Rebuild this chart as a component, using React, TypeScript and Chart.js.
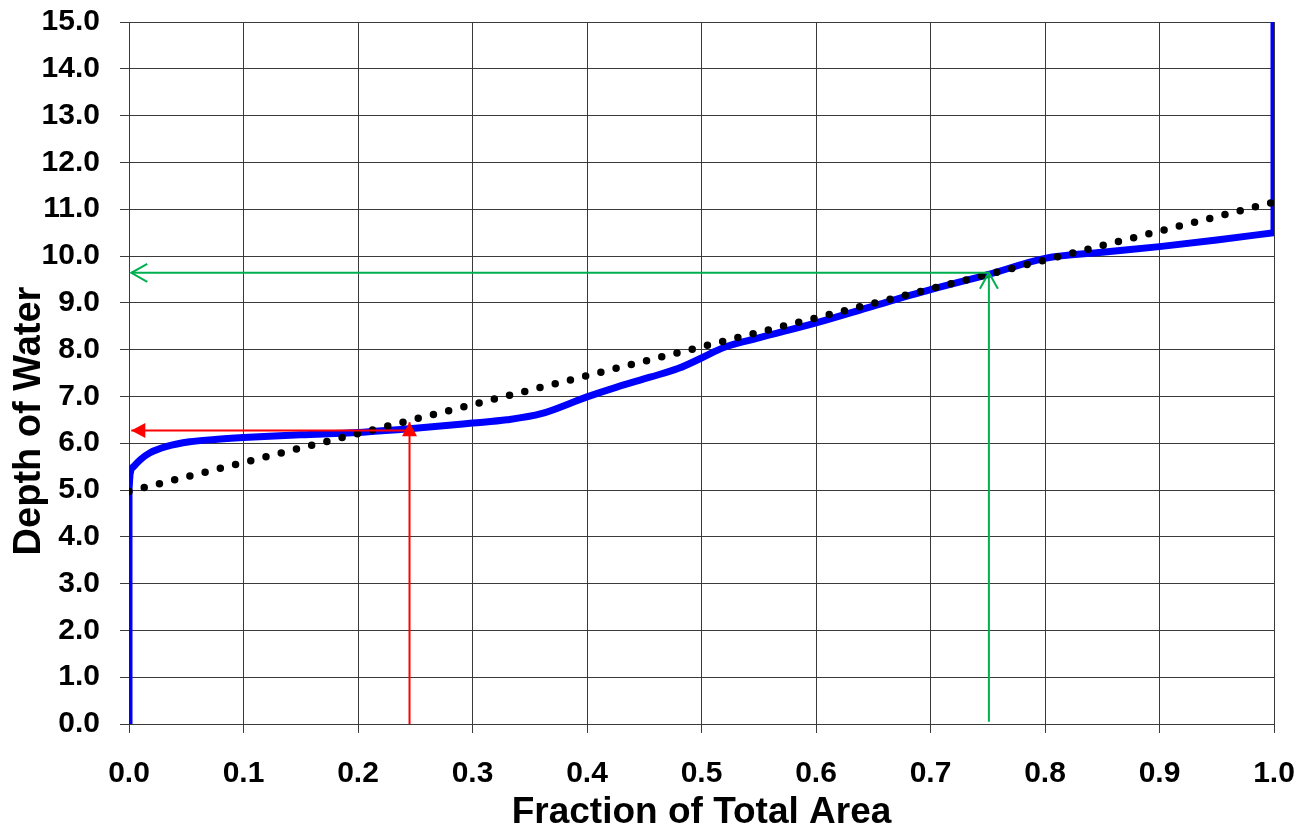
import React, { useEffect, useRef } from "react";
import { Chart, registerables } from "chart.js";

Chart.register(...registerables);

// Blue curve: depth of water vs fraction of total area
const leftEdgeFraction = [0, 0];
const leftEdgeDepth = [0, 5.0];
const curveFraction = [0, 0.001, 0.004, 0.01, 0.018, 0.033, 0.053, 0.075, 0.1, 0.15, 0.2, 0.25, 0.3, 0.33, 0.36, 0.4, 0.426, 0.455, 0.48, 0.5, 0.52, 0.55, 0.6, 0.65, 0.7, 0.75, 0.8, 0.85, 0.9, 0.95, 1.0];
const curveDepth = [5.0, 5.35, 5.5, 5.65, 5.79, 5.93, 6.03, 6.08, 6.12, 6.18, 6.23, 6.32, 6.43, 6.5, 6.63, 6.99, 7.2, 7.41, 7.6, 7.82, 8.05, 8.25, 8.57, 8.93, 9.28, 9.6, 9.95, 10.08, 10.2, 10.34, 10.5];
const rightEdgeFraction = [1.0, 1.0];
const rightEdgeDepth = [10.5, 15.0];

// Dotted straight-line reference
const linearFraction = [0, 1.0];
const linearDepth = [4.97, 11.15];

// Red arrows (fraction 0.245)
const redUpX = [0.245, 0.245];
const redUpY = [0, 6.45];
const redLeftX = [0.245, 0.002];
const redLeftY = [6.27, 6.27];

// Green arrows (fraction 0.75)
const greenUpX = [0.751, 0.751];
const greenUpY = [0.05, 9.64];
const greenLeftX = [0.751, 0.002];
const greenLeftY = [9.64, 9.64];

const xTicks = [0, 0.1, 0.2, 0.3, 0.4, 0.5, 0.6, 0.7, 0.8, 0.9, 1.0];
const yTicks = [0, 1, 2, 3, 4, 5, 6, 7, 8, 9, 10, 11, 12, 13, 14, 15];

const xTitle = "Fraction of Total Area";
const yTitle = "Depth of Water";

const zip = (xs: number[], ys: number[]) => xs.map((x, i) => ({ x, y: ys[i] }));

const FONT = "'Liberation Sans', Arial, sans-serif";

const arrowPlugin = {
  id: "arrowHeads",
  afterDatasetsDraw(chart: any) {
    const ctx = chart.ctx;
    chart.data.datasets.forEach((ds: any, i: number) => {
      if (!ds.arrowHead) return;
      const meta = chart.getDatasetMeta(i);
      const pts = meta.data;
      if (pts.length < 2) return;
      const tip = pts[pts.length - 1];
      const prev = pts[pts.length - 2];
      const ang = Math.atan2(tip.y - prev.y, tip.x - prev.x);
      const len = ds.arrowHead === "filled" ? 14 : 16;
      const half = ds.arrowHead === "filled" ? 7.5 : 9;
      const bx = tip.x - len * Math.cos(ang);
      const by = tip.y - len * Math.sin(ang);
      const px = -Math.sin(ang) * half;
      const py = Math.cos(ang) * half;
      ctx.save();
      ctx.strokeStyle = ds.borderColor;
      ctx.fillStyle = ds.borderColor;
      ctx.lineWidth = 2;
      ctx.beginPath();
      if (ds.arrowHead === "filled") {
        ctx.moveTo(tip.x, tip.y);
        ctx.lineTo(bx + px, by + py);
        ctx.lineTo(bx - px, by - py);
        ctx.closePath();
        ctx.fill();
      } else {
        ctx.moveTo(bx + px, by + py);
        ctx.lineTo(tip.x, tip.y);
        ctx.lineTo(bx - px, by - py);
        ctx.stroke();
      }
      ctx.restore();
    });
  },
};

const yTitlePlugin = {
  id: "yTitle",
  afterDraw(chart: any) {
    const ctx = chart.ctx;
    ctx.save();
    ctx.translate(30, 421);
    ctx.rotate(-Math.PI / 2);
    ctx.font = `bold 38px ${FONT}`;
    ctx.fillStyle = "#000";
    ctx.textAlign = "center";
    ctx.textBaseline = "middle";
    ctx.fillText(yTitle, 0, 0);
    ctx.restore();
  },
};

export default function App() {
  const ref = useRef<HTMLCanvasElement | null>(null);
  useEffect(() => {
    if (!ref.current) return;
    const lineDs = (data: any[], color: string, width: number, extra: any = {}) => ({
      data,
      borderColor: color,
      backgroundColor: color,
      borderWidth: width,
      showLine: true,
      pointRadius: 0,
      pointHoverRadius: 0,
      tension: 0,
      fill: false,
      ...extra,
    });
    const blue = { borderJoinStyle: "round", borderCapStyle: "round", order: 2 };
    const chart = new Chart(ref.current, {
      type: "scatter",
      data: {
        datasets: [
          lineDs(zip(redUpX, redUpY), "#ff0000", 2, { arrowHead: "filled", order: 0 }),
          lineDs(zip(redLeftX, redLeftY), "#ff0000", 2, { arrowHead: "filled", order: 0 }),
          lineDs(zip(greenUpX, greenUpY), "#00b050", 2, { arrowHead: "open", order: 0 }),
          lineDs(zip(greenLeftX, greenLeftY), "#00b050", 2, { arrowHead: "open", order: 0 }),
          lineDs(zip(linearFraction, linearDepth), "#000000", 7.5, {
            borderDash: [0, 15.7],
            borderCapStyle: "round",
            order: 1,
          }),
          lineDs(zip(leftEdgeFraction, leftEdgeDepth), "#0000ff", 7, { ...blue, borderCapStyle: "butt" }),
          lineDs(zip(curveFraction, curveDepth), "#0000ff", 7, {
            ...blue,
            cubicInterpolationMode: "monotone",
          }),
          lineDs(zip(rightEdgeFraction, rightEdgeDepth), "#0000ff", 7, blue),
        ] as any,
      },
      options: {
        responsive: false,
        devicePixelRatio: 1,
        animation: false,
        events: [],
        layout: { padding: { top: 22, right: 38, left: 0, bottom: 0 } },
        plugins: {
          legend: { display: false },
          tooltip: { enabled: false },
          title: { display: false },
        },
        scales: {
          x: {
            type: "linear",
            min: 0,
            max: 1,
            afterBuildTicks: (s: any) => {
              s.ticks = xTicks.map((v) => ({ value: v }));
            },
            afterFit: (s: any) => {
              s.height = 107;
              s.paddingLeft = 0;
              s.paddingRight = 0;
            },
            ticks: {
              color: "#000",
              font: { family: FONT, size: 30, weight: "bold" },
              padding: 23,
              maxRotation: 0,
              callback: (v: any) => Number(v).toFixed(1),
            },
            grid: { color: "#3a3a3a", lineWidth: 1, tickLength: 9, drawTicks: true },
            border: { color: "#3a3a3a", width: 1 },
            title: {
              display: true,
              text: xTitle,
              color: "#000",
              font: { family: FONT, size: 37, weight: "bold" },
              padding: { top: 0, bottom: -4 },
            },
          },
          y: {
            type: "linear",
            min: 0,
            max: 15,
            afterBuildTicks: (s: any) => {
              s.ticks = yTicks.map((v) => ({ value: v }));
            },
            afterFit: (s: any) => {
              s.width = 129;
              s.paddingTop = 0;
              s.paddingBottom = 0;
            },
            ticks: {
              color: "#000",
              font: { family: FONT, size: 30, weight: "bold" },
              padding: 20,
              callback: (v: any) => Number(v).toFixed(1),
            },
            grid: { color: "#3a3a3a", lineWidth: 1, tickLength: 9, drawTicks: true },
            border: { color: "#3a3a3a", width: 1 },
            title: { display: false },
          },
        },
      } as any,
      plugins: [arrowPlugin, yTitlePlugin],
    });
    return () => chart.destroy();
  }, []);
  return (
    <div style={{ position: "fixed", left: 0, top: 0, width: 1312, height: 831, background: "#fff" }}>
      <canvas ref={ref} width={1312} height={831} style={{ display: "block" }} />
    </div>
  );
}
